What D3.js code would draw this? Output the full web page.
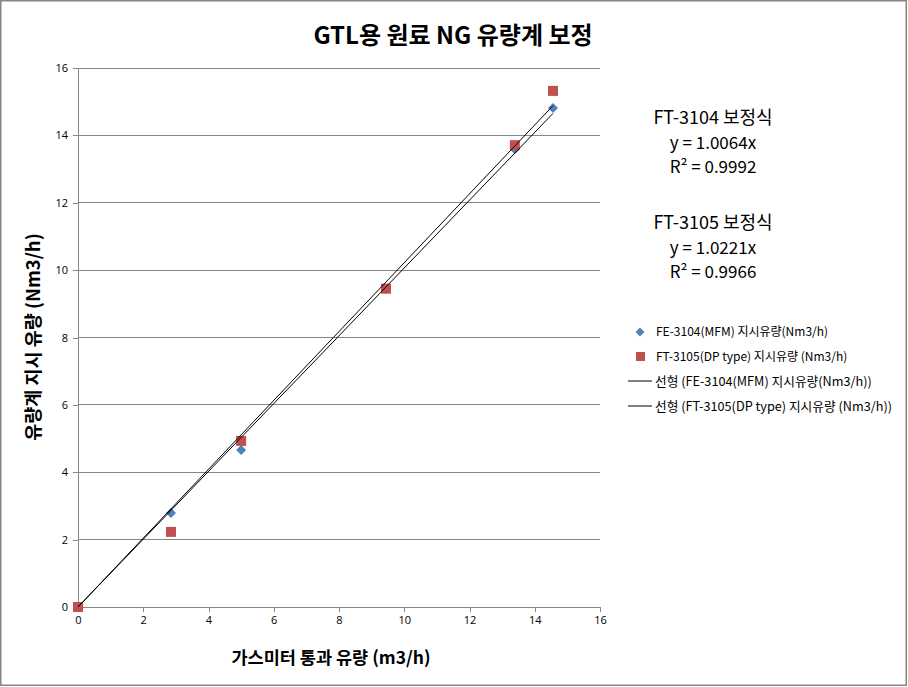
<!DOCTYPE html>
<html><head><meta charset="utf-8">
<script src="https://cdn.jsdelivr.net/npm/d3@7"></script>
<style>
body{margin:0;background:#fff;}
svg{display:block;font-family:"Noto Sans CJK KR","Noto Sans",sans-serif;}
</style></head>
<body><svg id="c" width="908" height="687"></svg>
<script>
const gasMeterFlow = [0, 2.85, 5.0, 9.44, 13.39, 14.56];
const fe3104Flow   = [0, 2.79, 4.66, 9.44, 13.59, 14.81];
const ft3105Flow   = [0, 2.23, 4.93, 9.45, 13.71, 15.32];
const slopes = [1.0064, 1.0221];
const xTicks = [0, 2, 4, 6, 8, 10, 12, 14, 16];
const yTicks = [0, 2, 4, 6, 8, 10, 12, 14, 16];
const seriesNames = ["FE-3104(MFM) 지시유량(Nm3/h)", "FT-3105(DP type) 지시유량 (Nm3/h)"];
const trendNames = ["선형 (FE-3104(MFM) 지시유량(Nm3/h))", "선형 (FT-3105(DP type) 지시유량 (Nm3/h))"];
const title = "GTL용 원료 NG 유량계 보정";
const xLabel = "가스미터 통과 유량 (m3/h)";
const yLabel = "유량계 지시 유량 (Nm3/h)";
const eqBlocks = [["FT-3104 보정식", "y = 1.0064x", "R² = 0.9992"], ["FT-3105 보정식", "y = 1.0221x", "R² = 0.9966"]];

const svg = d3.select("#c");
svg.append("rect").attr("x",0.75).attr("y",0.75).attr("width",905.5).attr("height",684.5)
  .attr("fill","#fff").attr("stroke","#868686").attr("stroke-width",1.5);

const L=78, R=600, T=68, B=607;
const x = d3.scaleLinear().domain([0,16]).range([L,R]);
const y = d3.scaleLinear().domain([0,16]).range([B,T]);

// gridlines
svg.append("g").selectAll("line").data(yTicks.filter(d=>d>0)).join("line")
  .attr("x1",L).attr("x2",R).attr("y1",d=>y(d)).attr("y2",d=>y(d))
  .attr("stroke","#868686").attr("stroke-width",1).attr("shape-rendering","crispEdges");

const xAxis = svg.append("g").attr("transform",`translate(0,${B})`)
  .call(d3.axisBottom(x).tickValues(xTicks).tickSize(5).tickPadding(4).tickFormat(d3.format("d")));
const yAxis = svg.append("g").attr("transform",`translate(${L},0)`)
  .call(d3.axisLeft(y).tickValues(yTicks).tickSize(5).tickPadding(5).tickFormat(d3.format("d")));
[xAxis,yAxis].forEach(a=>{
  a.selectAll("path,line").attr("stroke","#868686").attr("shape-rendering","crispEdges");
  a.selectAll("text").attr("font-size",11).attr("fill","#000").attr("font-family","'Open Sans','DejaVu Sans',sans-serif");
});

// markers
const pts1 = gasMeterFlow.map((g,i)=>[g,fe3104Flow[i]]);
const pts2 = gasMeterFlow.map((g,i)=>[g,ft3105Flow[i]]);
svg.append("g").selectAll("path").data(pts1).join("path")
  .attr("d",d3.symbol().type(d3.symbolDiamond2).size(64))
  .attr("transform",d=>`translate(${x(d[0])},${y(d[1])})`)
  .attr("fill","#4F81BD");
svg.append("g").selectAll("rect").data(pts2).join("rect")
  .attr("x",d=>x(d[0])-5).attr("y",d=>y(d[1])-5).attr("width",10).attr("height",10)
  .attr("fill","#C0504D");

// trendlines
const xMax = d3.max(gasMeterFlow);
slopes.forEach(s=>{
  svg.append("line").attr("x1",x(0)).attr("y1",y(0)).attr("x2",x(xMax)).attr("y2",y(s*xMax))
    .attr("stroke","#000").attr("stroke-width",1);
});

// titles
svg.append("text").attr("x",453).attr("y",44).attr("text-anchor","middle")
  .attr("font-size",24).attr("font-weight","bold").text(title);
svg.append("text").attr("x",331).attr("y",664).attr("text-anchor","middle")
  .attr("font-size",17.5).attr("font-weight","bold").text(xLabel);
svg.append("text").attr("transform","translate(40,337) rotate(-90)").attr("text-anchor","middle")
  .attr("font-size",18.5).attr("font-weight","bold").text(yLabel);

// equations
eqBlocks.forEach((b,bi)=>{
  const y0 = 124 + bi*105;
  b.forEach((t,i)=>{
    svg.append("text").attr("x",713).attr("y",y0+i*24.5).attr("text-anchor","middle")
      .attr("font-size",i===0?18:17).attr("fill","#000").text(t);
  });
});

// legend
const lg = svg.append("g").attr("font-size",12);
lg.append("path").attr("d",d3.symbol().type(d3.symbolDiamond2).size(50)).attr("transform","translate(640,332)").attr("fill","#4F81BD");
lg.append("text").attr("x",656).attr("y",336).text(seriesNames[0]);
lg.append("rect").attr("x",636).attr("y",352).attr("width",9).attr("height",9).attr("fill","#C0504D");
lg.append("text").attr("x",656).attr("y",361).text(seriesNames[1]);
trendNames.forEach((t,i)=>{
  const yy = 381 + i*25;
  lg.append("line").attr("x1",628).attr("x2",652).attr("y1",yy).attr("y2",yy).attr("stroke","#000").attr("stroke-width",1);
  lg.append("text").attr("x",655).attr("y",yy+4.5).attr("font-size",12.7).text(t);
});
</script></body></html>
